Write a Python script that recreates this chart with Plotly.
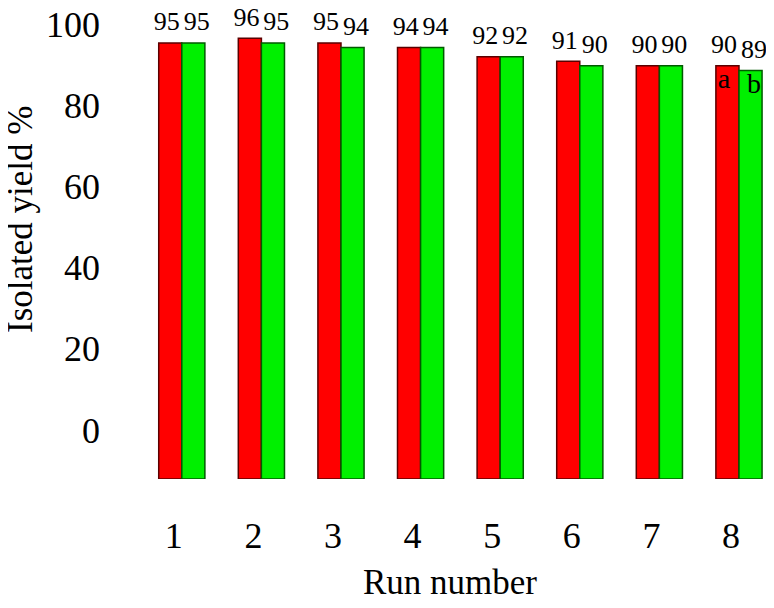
import plotly.graph_objects as go

runs = [1, 2, 3, 4, 5, 6, 7, 8]
yield_a = [95, 96, 95, 94, 92, 91, 90, 90]
yield_b = [95, 95, 94, 94, 92, 90, 90, 89]
y_ticks = [0, 20, 40, 60, 80, 100]

FONT = "Liberation Serif, Times New Roman, serif"
RED = "#ff0000"
GREEN = "#00f000"

fig = go.Figure()

# cylinders (flat bars with dark edges)
fig.add_trace(go.Bar(x=runs, y=yield_a, offsetgroup="a", alignmentgroup="bars",
                     marker=dict(color=RED, line=dict(color="#5a0000", width=1.5))))
fig.add_trace(go.Bar(x=runs, y=yield_b, offsetgroup="b", alignmentgroup="bars",
                     marker=dict(color=GREEN, line=dict(color="#005a00", width=1.5))))

# value labels above the bars
for vals, grp in [(yield_a, "a"), (yield_b, "b")]:
    fig.add_trace(go.Scatter(
        x=runs, y=vals, offsetgroup=grp, alignmentgroup="bars", mode="markers+text",
        text=[str(v) for v in vals], textposition="top center",
        marker=dict(size=8, opacity=0),
        textfont=dict(family=FONT, size=26, color="black"),
        cliponaxis=False, hoverinfo="skip"))

# series letters inside the last pair
for vals, grp, letter in [(yield_a, "a", "a"), (yield_b, "b", "b")]:
    fig.add_trace(go.Scatter(
        x=[runs[-1]], y=[vals[-1]], offsetgroup=grp, alignmentgroup="bars",
        mode="markers+text", text=[letter], textposition="bottom center",
        marker=dict(size=1, opacity=0),
        textfont=dict(family=FONT, size=28, color="black"),
        cliponaxis=False, hoverinfo="skip"))

# back-wall axis carrying the tick labels
fig.add_trace(go.Scatter(x=[None], y=[None], xaxis="x", yaxis="y2", alignmentgroup="wall",
                         mode="lines", hoverinfo="skip"))

fig.update_layout(
    width=766, height=590,
    margin=dict(l=134, r=0, t=0, b=119),
    plot_bgcolor="rgba(0,0,0,0)", paper_bgcolor="white",
    showlegend=False,
    barmode="group", bargap=0.42, bargroupgap=0,
    scattermode="group", scattergap=0.25,
    font=dict(family=FONT, color="black"),
    xaxis=dict(range=[0.5, 8.44], tickvals=runs, showgrid=False, zeroline=False,
               showline=False, ticks="", tickfont=dict(size=36), automargin=False,
               ticklabelshift=-8, ticklabelstandoff=32),
    yaxis=dict(range=[0, 102.6], showgrid=False, zeroline=False, showline=False,
               showticklabels=False, ticks="", automargin=False),
    yaxis2=dict(range=[0, 100], domain=[0.104, 0.966], anchor="free", position=0,
                tickvals=y_ticks, showgrid=False, zeroline=False, showline=False,
                ticks="", tickfont=dict(size=36), ticklabelstandoff=42, automargin=False,
                ticklabeloverflow="allow"),
    annotations=[
        dict(text="Run number", xref="paper", yref="paper", x=0.5, y=0,
             xanchor="center", yanchor="middle", yshift=-103, xshift=-8,
             showarrow=False, font=dict(size=35)),
        dict(text="Isolated yield %", xref="paper", yref="paper", x=0, y=0.55,
             xanchor="center", yanchor="middle", xshift=-121, textangle=-90,
             showarrow=False, font=dict(size=35)),
    ],
)

fig.write_html("out.html")
